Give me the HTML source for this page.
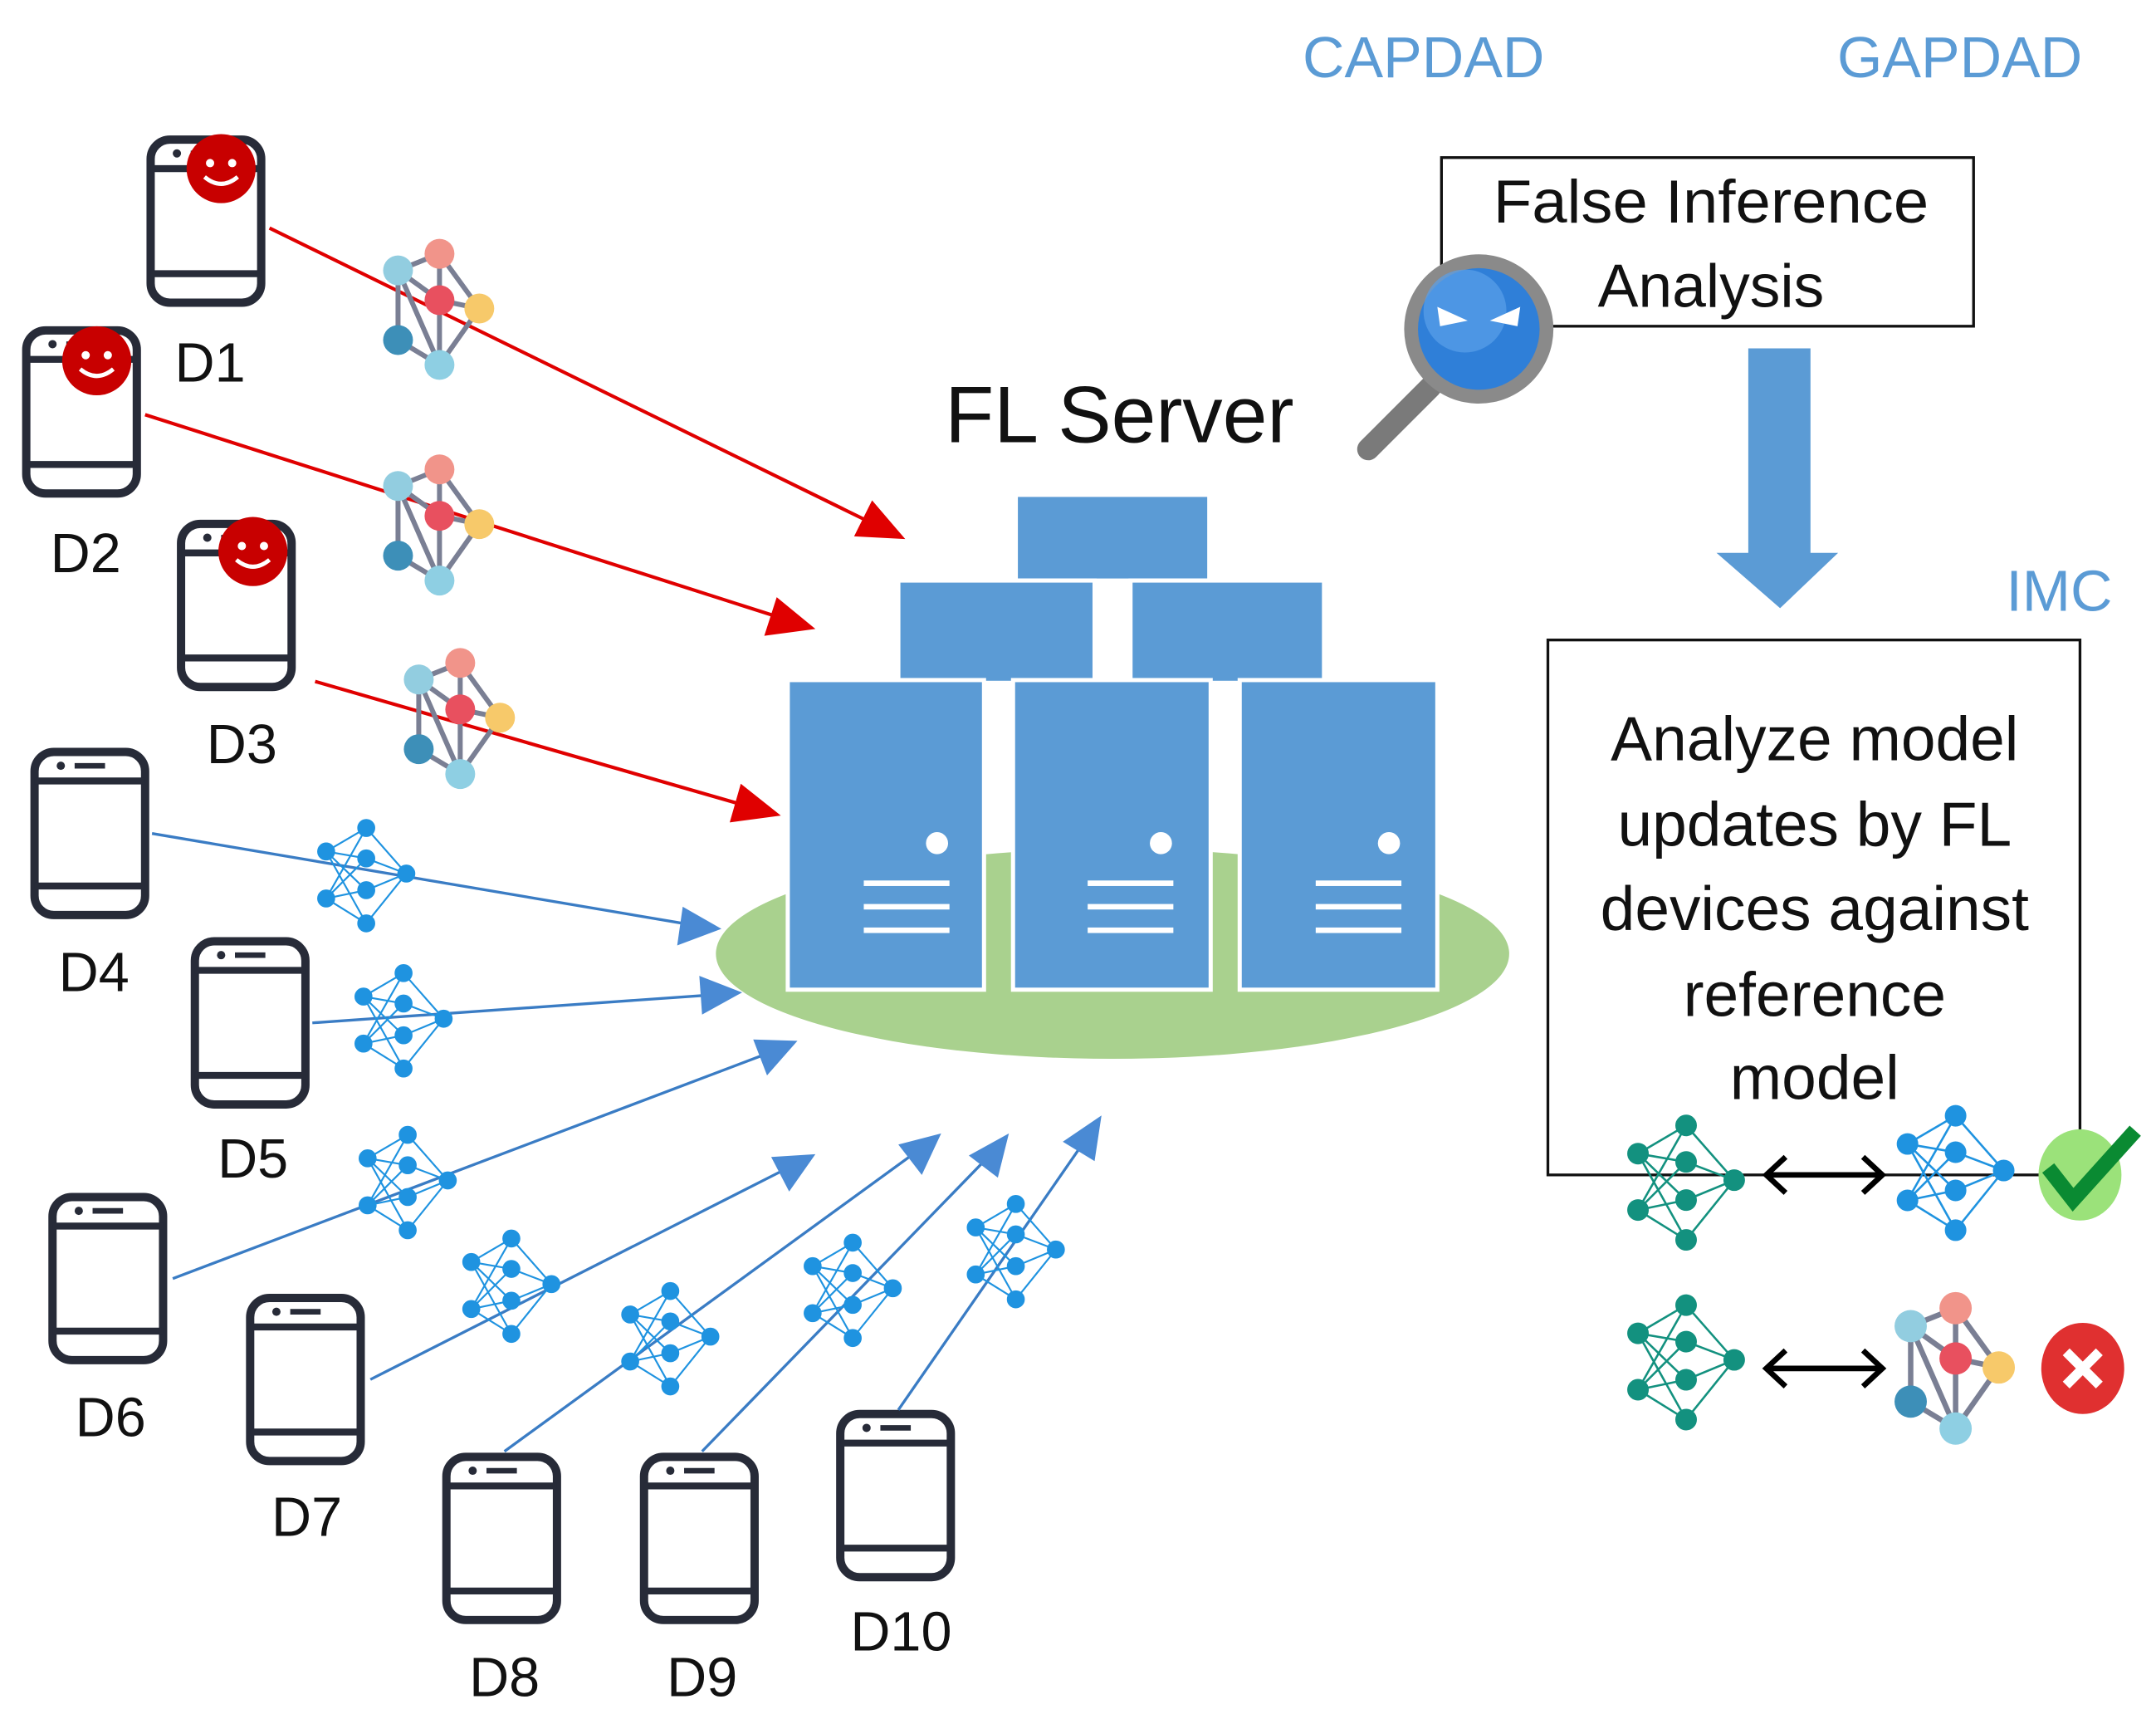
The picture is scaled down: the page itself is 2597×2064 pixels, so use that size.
<!DOCTYPE html>
<html><head><meta charset="utf-8"><style>html,body{margin:0;padding:0;background:#fff}svg{display:block}</style></head>
<body>
<svg width="2597" height="2064" viewBox="0 0 1560 1240" preserveAspectRatio="none" xmlns="http://www.w3.org/2000/svg" font-family="Liberation Sans, sans-serif">
<defs>
<g id="phone">
<rect x="3" y="3" width="80" height="118" rx="14" fill="#fff" stroke="#272b38" stroke-width="6"/>
<line x1="3" y1="24" x2="83" y2="24" stroke="#272b38" stroke-width="5"/>
<line x1="3" y1="100" x2="83" y2="100" stroke="#272b38" stroke-width="5"/>
<circle cx="22" cy="13" r="3" fill="#272b38"/>
<line x1="32" y1="13" x2="54" y2="13" stroke="#272b38" stroke-width="4"/>
</g>
<g id="evil">
<circle cx="0" cy="0" r="25" fill="#c80000"/>
<circle cx="-8" cy="-4" r="3" fill="#fff"/><circle cx="8" cy="-4" r="3" fill="#fff"/>
<path d="M-12 6 Q0 16 12 6" stroke="#fff" stroke-width="3" fill="none"/>
</g>
<g id="net">
<g stroke-width="1.3" fill="none">
<path d="M-29 -17 L0 -34 M-29 -17 L0 -12 M-29 -17 L0 11 M-29 -17 L0 35 M-29 17 L0 -34 M-29 17 L0 -12 M-29 17 L0 11 M-29 17 L0 35 M0 -34 L29 -1 M0 -12 L29 -1 M0 11 L29 -1 M0 35 L29 -1"/>
</g>
<circle cx="-29" cy="-17" r="6"/><circle cx="-29" cy="17" r="6"/>
<circle cx="0" cy="-34" r="6"/><circle cx="0" cy="-12" r="6"/><circle cx="0" cy="11" r="6"/><circle cx="0" cy="35" r="6"/>
<circle cx="29" cy="-1" r="6"/>
</g>
<g id="cnet">
<path d="M0 -32 L-25 -22 M0 -32 L24 1 M0 -32 L0 -4 M-25 -22 L0 -4 M-25 -22 L-25 20 M0 -4 L24 1 M0 -4 L0 35 M24 1 L0 35 M-25 20 L0 35 M-25 -22 L0 35" stroke="#7a7f94" stroke-width="3" fill="none"/>
<circle cx="0" cy="-32" r="9" fill="#f1948a"/>
<circle cx="-25" cy="-22" r="9" fill="#92cde0"/>
<circle cx="0" cy="-4" r="9" fill="#e8505f"/>
<circle cx="24" cy="1" r="9" fill="#f7c96a"/>
<circle cx="-25" cy="20" r="9" fill="#3d8fb8"/>
<circle cx="0" cy="35" r="9" fill="#8ecfe3"/>
</g>
</defs>

<g fill="#5b9bd5" font-size="42" text-anchor="middle">
<text x="1030" y="56">CAPDAD</text>
<text x="1418" y="56">GAPDAD</text>
<text x="1490" y="442">IMC</text>
</g>

<rect x="1043" y="114" width="385" height="122" fill="#fff" stroke="#111" stroke-width="2"/>
<text x="1238" y="161" font-size="44" text-anchor="middle" fill="#111" textLength="315" lengthAdjust="spacingAndGlyphs">False Inference</text>
<text x="1238" y="222" font-size="44" text-anchor="middle" fill="#111">Analysis</text>

<line x1="990" y1="325" x2="1035" y2="280" stroke="#7a7a7a" stroke-width="16" stroke-linecap="round"/>
<circle cx="1070" cy="238" r="54" fill="#8a8a8a"/>
<circle cx="1070" cy="238" r="44" fill="#2f7fd8"/>
<circle cx="1060" cy="225" r="30" fill="#5aa0ea" opacity="0.7"/>
<path d="M1040 222 L1062 232 L1042 236 Z M1100 222 L1078 232 L1098 236 Z" fill="#fff"/>

<path d="M1265 252 H1310 V400 H1330 L1288 440 L1242 400 H1265 Z" fill="#5b9bd5"/>

<rect x="1120" y="463" width="385" height="387" fill="#fff" stroke="#111" stroke-width="2"/>
<g font-size="45" text-anchor="middle" fill="#111">
<text x="1313" y="550">Analyze model</text>
<text x="1313" y="612">updates by FL</text>
<text x="1313" y="673">devices against</text>
<text x="1313" y="735">reference</text>
<text x="1313" y="795">model</text>
</g>

<g fill="#13917f" stroke="#13917f">
<use href="#net" transform="translate(1220 855) scale(1.2)"/>
<use href="#net" transform="translate(1220 985) scale(1.2)"/>
</g>
<use href="#net" transform="translate(1415 848) scale(1.2)" fill="#1f93e0" stroke="#1f93e0"/>
<use href="#cnet" transform="translate(1415 988) scale(1.3)"/>
<g stroke="#000" stroke-width="4" fill="none">
<line x1="1278" y1="850" x2="1362" y2="850"/>
<path d="M1292 837 L1278 850 L1292 863 M1348 837 L1362 850 L1348 863"/>
<line x1="1278" y1="990" x2="1362" y2="990"/>
<path d="M1292 977 L1278 990 L1292 1003 M1348 977 L1362 990 L1348 1003"/>
</g>
<ellipse cx="1505" cy="850" rx="30" ry="33" fill="#9be27a"/>
<path d="M1482 845 L1500 868 L1545 818" stroke="#0a8a32" stroke-width="11" fill="none"/>
<ellipse cx="1507" cy="990" rx="30" ry="33" fill="#e03030"/>
<path d="M1495 978 L1519 1002 M1519 978 L1495 1002" stroke="#fff" stroke-width="7"/>

<text x="810" y="320" font-size="58" text-anchor="middle" fill="#111">FL Server</text>
<ellipse cx="805" cy="690" rx="287" ry="76" fill="#a9d18e"/>
<g fill="#5b9bd5" stroke="#fff" stroke-width="3">
<rect x="735" y="358" width="140" height="62"/>
<rect x="650" y="420" width="142" height="74"/>
<rect x="818" y="420" width="140" height="74"/>
<rect x="570" y="492" width="142" height="224"/>
<rect x="733" y="492" width="143" height="224"/>
<rect x="897" y="492" width="143" height="224"/>
</g>
<g fill="#fff">
<circle cx="678" cy="610" r="8"/><circle cx="840" cy="610" r="8"/><circle cx="1005" cy="610" r="8"/>
<rect x="625" y="637" width="62" height="4"/><rect x="625" y="654" width="62" height="4"/><rect x="625" y="671" width="62" height="4"/>
<rect x="787" y="637" width="62" height="4"/><rect x="787" y="654" width="62" height="4"/><rect x="787" y="671" width="62" height="4"/>
<rect x="952" y="637" width="62" height="4"/><rect x="952" y="654" width="62" height="4"/><rect x="952" y="671" width="62" height="4"/>
</g>

<use href="#phone" x="106" y="98"/>
<use href="#phone" x="16" y="236"/>
<use href="#phone" x="128" y="376"/>
<use href="#phone" x="22" y="541"/>
<use href="#phone" x="138" y="678"/>
<use href="#phone" x="35" y="863"/>
<use href="#phone" x="178" y="936"/>
<use href="#phone" x="320" y="1051"/>
<use href="#phone" x="463" y="1051"/>
<use href="#phone" x="605" y="1020"/>
<use href="#evil" x="160" y="122"/>
<use href="#evil" x="70" y="261"/>
<use href="#evil" x="183" y="399"/>

<g font-size="40" text-anchor="middle" fill="#111">
<text x="152" y="276">D1</text><text x="62" y="414">D2</text><text x="175" y="552">D3</text>
<text x="68" y="717">D4</text><text x="183" y="852">D5</text><text x="80" y="1039">D6</text>
<text x="222" y="1111">D7</text><text x="365" y="1227">D8</text><text x="508" y="1227">D9</text>
<text x="652" y="1194">D10</text>
</g>

<g stroke="#e00000" stroke-width="2.5">
<line x1="195" y1="165" x2="630" y2="378"/>
<line x1="105" y1="300" x2="565" y2="447"/>
<line x1="228" y1="493" x2="540" y2="583"/>
</g>
<g fill="#e00000">
<path d="M655 390 L618 388 L631 362 Z"/>
<path d="M590 455 L553 460 L562 432 Z"/>
<path d="M565 590 L528 595 L536 567 Z"/>
</g>

<g stroke="#3a7cc4" stroke-width="2">
<line x1="110" y1="603" x2="500" y2="669"/>
<line x1="226" y1="740" x2="512" y2="720"/>
<line x1="125" y1="925" x2="553" y2="763"/>
<line x1="268" y1="998" x2="568" y2="846"/>
<line x1="365" y1="1050" x2="662" y2="834"/>
<line x1="508" y1="1050" x2="714" y2="838"/>
<line x1="650" y1="1020" x2="783" y2="828"/>
</g>
<g fill="#4a8ad4">
<path d="M522 672 L490 684 L494 656 Z"/>
<path d="M537 718 L508 734 L506 706 Z"/>
<path d="M577 753 L555 778 L545 752 Z"/>
<path d="M590 835 L571 862 L558 837 Z"/>
<path d="M681 820 L667 850 L650 828 Z"/>
<path d="M730 820 L722 852 L701 836 Z"/>
<path d="M797 807 L792 840 L769 826 Z"/>
</g>

<g fill="#1f93e0" stroke="#1f93e0">
<use href="#net" transform="translate(265 633) scale(1)"/>
<use href="#net" transform="translate(292 738) scale(1)"/>
<use href="#net" transform="translate(295 855) scale(1)"/>
<use href="#net" transform="translate(370 930) scale(1)"/>
<use href="#net" transform="translate(485 968) scale(1)"/>
<use href="#net" transform="translate(617 933) scale(1)"/>
<use href="#net" transform="translate(735 905) scale(1)"/>
</g>
<use href="#cnet" transform="translate(318 222) scale(1.2)"/>
<use href="#cnet" transform="translate(318 378) scale(1.2)"/>
<use href="#cnet" transform="translate(333 518) scale(1.2)"/>
</svg>
</body></html>
